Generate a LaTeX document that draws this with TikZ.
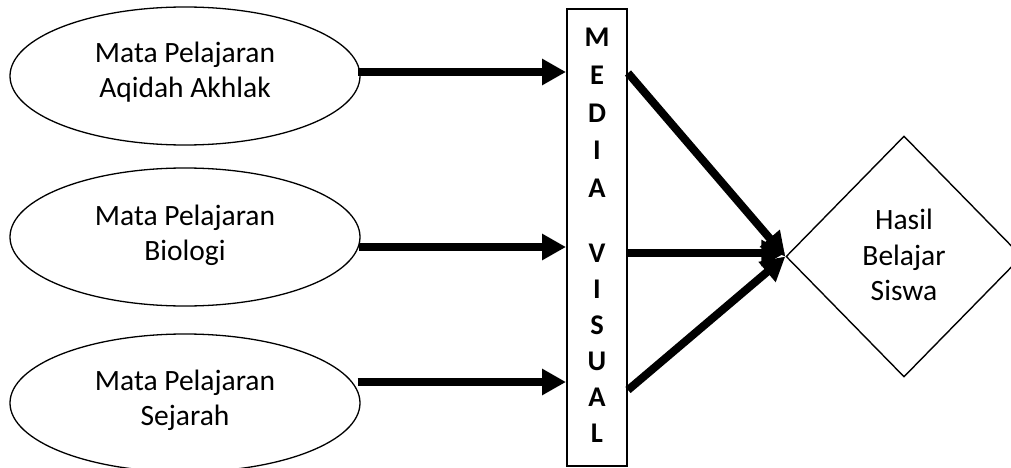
\documentclass[tikz,border=0pt]{standalone}
\usepackage{fontspec}
\setmainfont{Carlito}
\usetikzlibrary{shapes.geometric,arrows.meta}
\tikzset{
  oval/.style={draw,line width=1.3pt,ellipse,minimum width=350pt,minimum height=138pt,inner sep=0pt},
  lbl/.style={anchor=base,inner sep=0pt,font=\fontsize{29.5}{35}\selectfont},
  letter/.style={anchor=base,inner sep=0pt,font=\fontsize{28.5}{35}\selectfont\bfseries},
  mediabox/.style={draw,line width=2pt,rectangle,minimum width=60pt,minimum height=457pt,inner sep=0pt},
  goal/.style={draw,line width=1.4pt,diamond,minimum width=236pt,minimum height=241pt,inner sep=0pt},
  arr/.style={line width=8pt,-{Triangle[length=24pt,width=25pt]}},
  link/.style={line width=8pt}
}
\begin{document}
\begin{tikzpicture}[x=1pt,y=-1pt]
\useasboundingbox (0,0) rectangle (1011,468);
\fill[white] (0,0) rectangle (1011,468);
% ovals
\node[oval] (e1) at (185,76) {};
\node[oval] (e2) at (185,237) {};
\node[oval] (e3) at (185,403) {};
\node[lbl] (t1a) at (185,63) {Mata Pelajaran};
\node[lbl] (t1b) at (185,98) {Aqidah Akhlak};
\node[lbl] (t2a) at (185,225) {Mata Pelajaran};
\node[lbl] (t2b) at (185,260) {Biologi};
\node[lbl] (t3a) at (185,390) {Mata Pelajaran};
\node[lbl] (t3b) at (185,425) {Sejarah};
% media box
\node[mediabox] (media) at (597,237.5) {};
\foreach \ch/\yy [count=\i] in {M/47,E/84.5,D/122,I/159.5,A/197,V/262,I/298,S/334,U/370,A/406,L/442}
  \node[letter] (m\i) at (597,\yy) {\ch};
% goal
\node[goal] (goal) at (904,256.5) {};
\node[lbl] (g1) at (904,229) {Hasil};
\node[lbl] (g2) at (904,265) {Belajar};
\node[lbl] (g3) at (904,300) {Siswa};
% connector heights
\coordinate (y1) at (0,72);
\coordinate (y2) at (0,247);
\coordinate (y3) at (0,382);
\coordinate (z1) at (0,73);
\coordinate (z2) at (0,253);
\coordinate (z3) at (0,390);
\draw[arr] ([xshift=-3pt]e1.east |- y1) -- (media.west |- y1);
\draw[arr] ([xshift=-2pt]e2.east |- y2) -- (media.west |- y2);
\draw[arr] ([xshift=-3pt]e3.east |- y3) -- (media.west |- y3);
\draw[arr] (media.east |- z1) -- (goal.west);
\draw[arr] (media.east |- z2) -- (goal.west |- z2);
\draw[arr] (media.east |- z3) -- (goal.west);
\end{tikzpicture}
\end{document}
